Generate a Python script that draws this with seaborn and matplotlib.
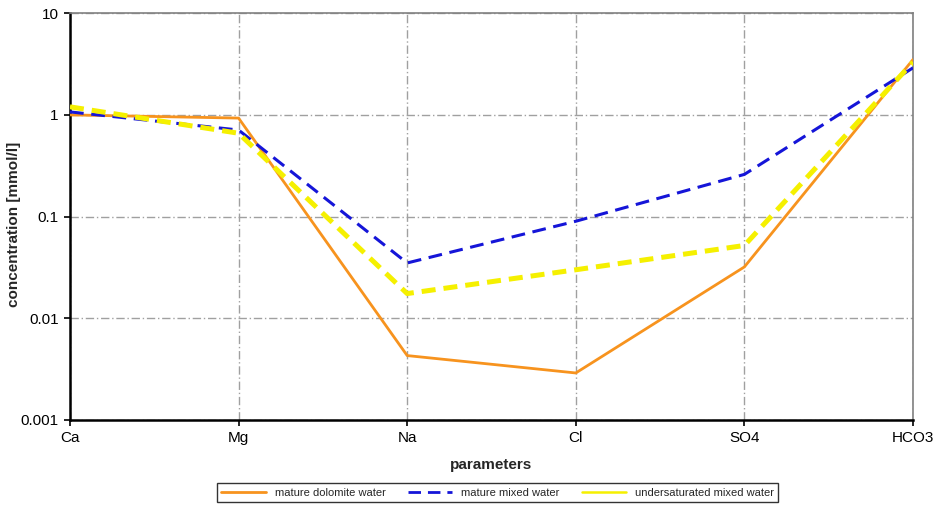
import matplotlib
matplotlib.use("Agg")
import matplotlib.pyplot as plt
import seaborn as sns
import pandas as pd
import numpy as np

params = ["Ca", "Mg", "Na", "Cl", "SO4", "HCO3"]
dolomite = [1.0, 0.93, 0.0043, 0.0029, 0.032, 3.5]
mixed = [1.07, 0.71, 0.035, 0.09, 0.26, 2.9]
undersat = [1.2, 0.66, 0.0175, 0.03, 0.052, 3.3]
series_names = ["mature dolomite water", "mature mixed water", "undersaturated mixed water"]
yticks = [0.001, 0.01, 0.1, 1, 10]
ytick_labels = ["0.001", "0.01", "0.1", "1", "10"]

sns.set_style("white")
plt.rcParams['font.family'] = ['Liberation Sans', 'DejaVu Sans']

rows = []
for name, vals in zip(series_names, [dolomite, mixed, undersat]):
    for i, (p, v) in enumerate(zip(params, vals)):
        rows.append({"idx": i, "param": p, "value": v, "series": name})
df = pd.DataFrame(rows)

fig = plt.figure(figsize=(9.39, 5.07), dpi=100)
ax = fig.add_axes([0.0745, 0.1716, 0.8978, 0.8024])

styles = {
    "mature dolomite water": dict(color="#f7931e", lw=2.0, ls="-"),
    "mature mixed water": dict(color="#1515d8", lw=2.2, ls=(0, (4.5, 2.5))),
    "undersaturated mixed water": dict(color="#f5f000", lw=3.6, ls=(0, (2.8, 1.6))),
}
for name in series_names:
    sub = df[df.series == name]
    st = styles[name]
    sns.lineplot(data=sub, x="idx", y="value", ax=ax, sort=False,
                 color=st["color"], linewidth=st["lw"], linestyle=st["ls"],
                 label=name, zorder=3)

ax.set_yscale("log")
ax.set_ylim(0.001, 10)
ax.set_xlim(0, len(params) - 1)
ax.set_xticks(range(len(params)))
ax.set_xticklabels(params, fontsize=11)
ax.set_yticks(yticks)
ax.set_yticklabels(ytick_labels, fontsize=11)
ax.minorticks_off()
ax.yaxis.set_minor_locator(matplotlib.ticker.NullLocator())
ax.grid(True, color="#a0a0a0", linestyle=(0, (6, 2, 1, 2)), linewidth=1.0, zorder=0)
ax.set_axisbelow(True)
ax.tick_params(axis="both", length=4, direction="out", width=1.2, colors="black", pad=4)
ax.tick_params(left=True, bottom=True)

for s in ["left", "bottom"]:
    ax.spines[s].set_color("black")
    ax.spines[s].set_linewidth(1.8)
for s in ["top", "right"]:
    ax.spines[s].set_color("#808080")
    ax.spines[s].set_linewidth(1.2)

ax.set_xlabel("parameters", fontsize=11, fontweight="bold", labelpad=9)
ax.set_ylabel("concentration [mmol/l]", fontsize=11, fontweight="bold")
ax.yaxis.set_label_coords(-0.058, 0.48)

ax.get_legend().remove()
handles, labels = ax.get_legend_handles_labels()
leg = fig.legend(handles, labels, loc="center", bbox_to_anchor=(0.53, 0.028), ncol=3,
                 fontsize=8, frameon=True, fancybox=False, edgecolor="black",
                 handlelength=4, columnspacing=2.0, borderpad=0.4)
leg.get_frame().set_linewidth(1.0)
for lh, name in zip(leg.get_lines(), labels):
    if name == "undersaturated mixed water":
        lh.set_linewidth(1.8)
        lh.set_linestyle("-")
    if name == "mature mixed water":
        lh.set_linewidth(2.0)

fig.savefig("out.png", dpi=100)
